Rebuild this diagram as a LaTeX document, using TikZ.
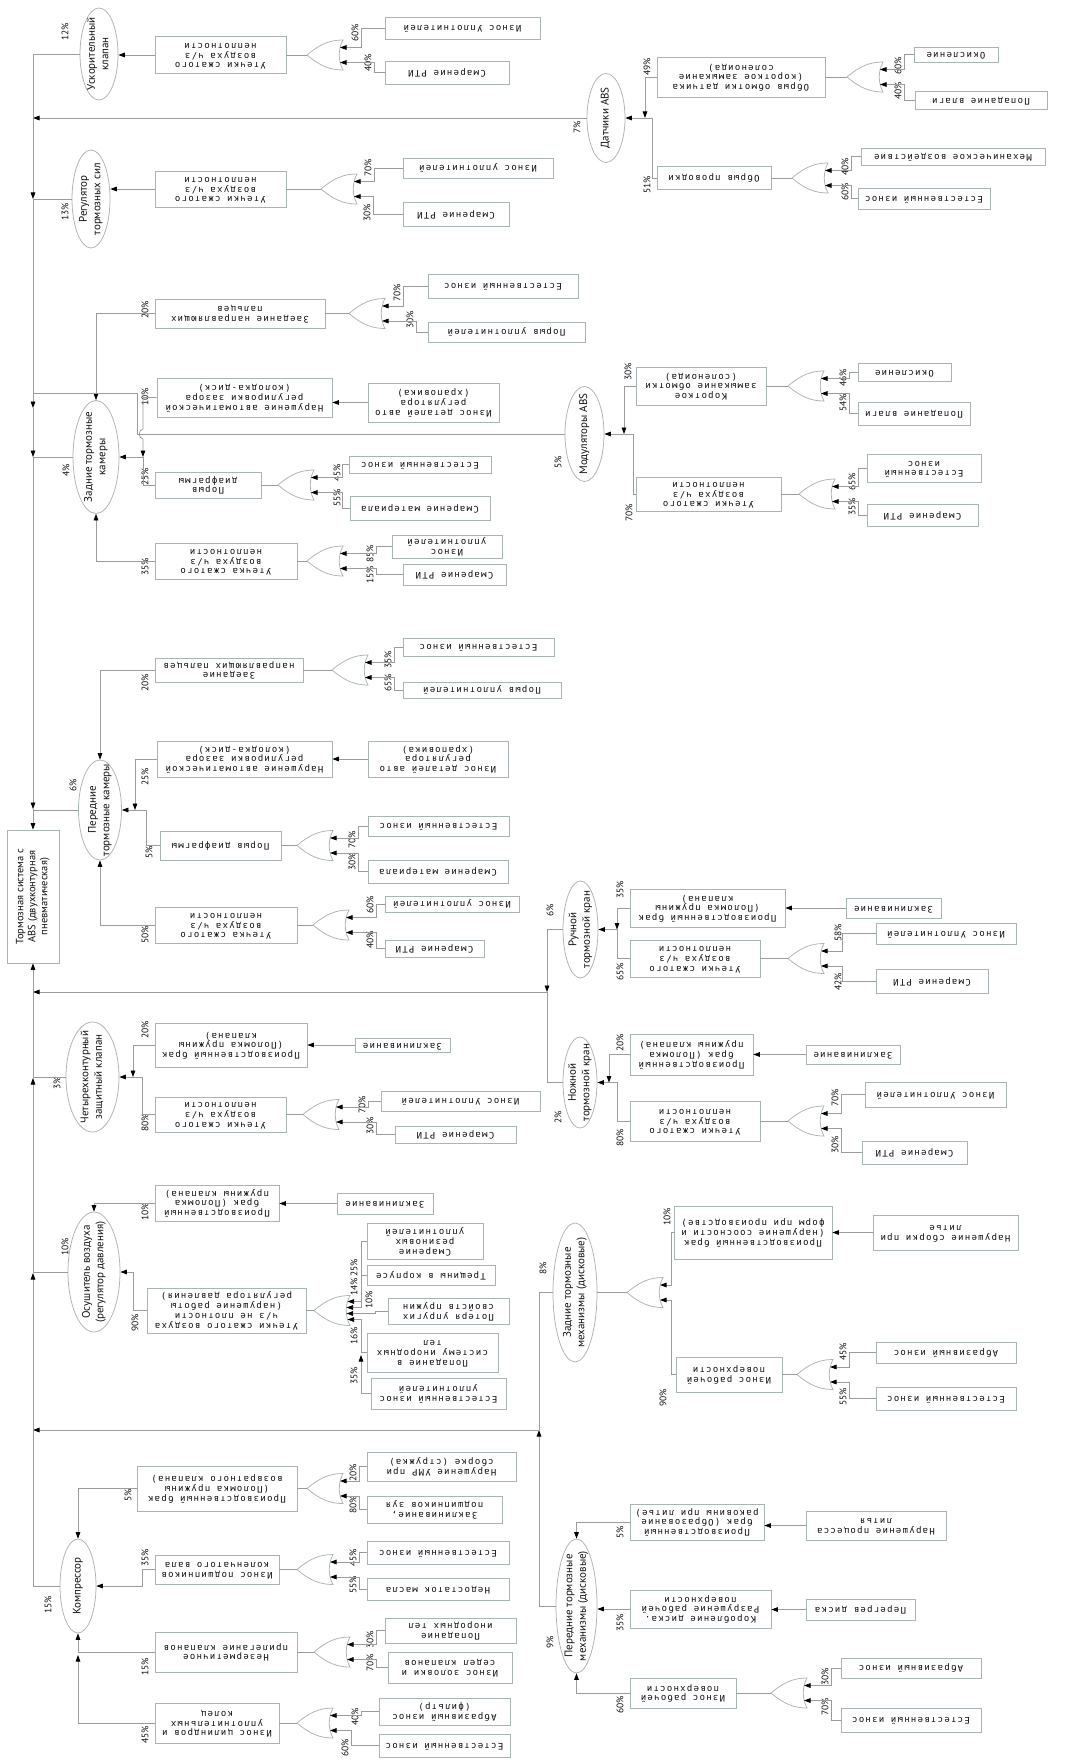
\documentclass[tikz,border=0pt]{standalone}
\usepackage{fontspec}
\usepackage{graphicx}
\usetikzlibrary{shapes.geometric,arrows.meta}
\setmainfont{PT Sans}
\newfontfamily\bxfont[LetterSpace=14]{DejaVu Sans Mono}
\newfontfamily\elfont{PT Sans}
\definecolor{bcol}{HTML}{A9B5B3}
\definecolor{ccol}{HTML}{9C9C9C}
\definecolor{tcol}{HTML}{101010}
\newcommand\utx[1]{\rotatebox{180}{\begin{tabular}{@{}c@{}}#1\end{tabular}}}
\newcommand\rtx[1]{\rotatebox{90}{\begin{tabular}{@{}c@{}}#1\end{tabular}}}
\newcommand\bxnode[6]{\node[bx,minimum width=#4pt,minimum height=#5pt] (#1) at (#2,#3) {};\node[bt] (#1-t) at (#1.center) {\utx{#6}};}
\newcommand\elnode[6]{\node[el,minimum width=#4pt,minimum height=#5pt] (#1) at (#2,#3) {};\node[et] (#1-t) at (#1.center) {\rtx{#6}};}
\newcounter{pcn}
\newcommand\pctl[3]{\stepcounter{pcn}\node[pc] (pc\arabic{pcn}) at (#1,#2) {#3};}
\newcommand\orgt[3]{%
 \coordinate (#1) at (#2,#3);
 \coordinate (#1-a) at (#2+33,#3-7.5);
 \coordinate (#1-b) at (#2+33,#3+7.5);
 \draw[gt] (#2,#3) .. controls (#2+13,#3-11) and (#2+23,#3-15) .. (#2+36,#3-15) .. controls (#2+31,#3-6) and (#2+31,#3+6) .. (#2+36,#3+15) .. controls (#2+23,#3+15) and (#2+13,#3+11) .. (#2,#3);}
\newcommand\lnk[3]{\draw[conn,arr] (#1.west) -- ++(-#3,0) |- (#2);}
\tikzset{
 bx/.style={draw=bcol,line width=0.75pt,inner sep=0pt,rectangle},
 bt/.style={inner sep=0pt,text=tcol,font=\bxfont\fontsize{9}{9.9}\selectfont},
 el/.style={ellipse,draw=bcol,line width=0.75pt,inner sep=0pt},
 et/.style={inner sep=0pt,text=tcol,font=\elfont\fontsize{11}{13.5}\selectfont},
 pc/.style={rotate=90,inner sep=0pt,text=tcol,font=\elfont\fontsize{9.5}{10}\selectfont},
 conn/.style={draw=ccol,line width=0.75pt},
 gt/.style={draw=bcol,line width=0.75pt},
 arr/.style={-{Triangle[length=6.5pt,width=4.6pt,color=black]}},
}
\begin{document}
\begin{tikzpicture}[x=1pt,y=-1pt]
\fill[white] (0,0) rectangle (1075,1760);
\useasboundingbox (0,0) rectangle (1075,1760);

% ---------- root
\node[bx,minimum width=52pt,minimum height=133pt] (R) at (33,896.5) {};
\node[inner sep=0pt,text=tcol,font=\elfont\fontsize{10.5}{12}\selectfont] (R-t) at (R.center) {\rtx{Тормозная система с\\ABS (двухконтурная\\пневматическая)}};

% ---------- A: Ускорительный клапан
\elnode{E1}{99}{54}{38}{92}{Ускорительный\\клапан}
\pctl{65}{32}{12\%}
\bxnode{B1}{220.5}{55}{131}{37}{Утечки сжатого\\воздуха ч/з\\неплотности}
\orgt{G1}{307}{55}
\bxnode{L1a}{462.5}{28}{155}{22}{Износ Уплотнителей}
\bxnode{L1b}{447}{72.5}{124}{23}{Смарение РТИ}
\pctl{355}{33}{60\%}
\pctl{368}{63}{40\%}
\draw[conn,arr] (B1.west) -- (B1.west -| E1.east);
\draw[conn] (B1.east) -- (G1);
\lnk{L1a}{G1-a}{23}
\lnk{L1b}{G1-b}{10}

% ---------- B: Датчики ABS
\elnode{E2}{606}{118}{38}{89}{Датчики ABS}
\pctl{577}{127}{7\%}
\draw[conn,arr] (E2.west) -- (33,118);
\bxnode{B2a}{741}{77}{168}{40}{Обрыв обмотки датчика\\(короткое замыкание\\соленоида)}
\bxnode{B2b}{714}{178}{114}{23}{Обрыв проводки}
\pctl{647}{67}{49\%}
\pctl{647}{185}{51\%}
\draw[conn,arr] (B2a.west) -| (645,118);
\draw[conn,arr] (B2b.west) -| (652,118) -- (E2.east);
\orgt{G2a}{847}{77}
\draw[conn] (B2a.east) -- (G2a);
\bxnode{L2a}{956}{54.5}{84}{15}{Окисление}
\bxnode{L2b}{981}{100}{132}{18}{Попадание влаги}
\pctl{898}{66}{60\%}
\pctl{898}{91}{40\%}
\lnk{L2a}{G2a-a}{9}
\lnk{L2b}{G2a-b}{10}
\orgt{G2b}{792}{178}
\draw[conn] (B2b.east) -- (G2b);
\bxnode{L2c}{953}{156.5}{184}{17}{Механическое воздействие}
\bxnode{L2d}{924}{198.5}{132}{21}{Естественный износ}
\pctl{845}{167}{40\%}
\pctl{845}{192}{60\%}
\lnk{L2c}{G2b-a}{9}
\lnk{L2d}{G2b-b}{6}

% ---------- C: Регулятор тормозных сил
\elnode{E3}{91}{199}{38}{98}{Регулятор\\тормозных сил}
\pctl{65}{212}{13\%}
\bxnode{B3}{220.5}{189}{131}{36}{Утечки сжатого\\воздуха ч/з\\неплотности}
\draw[conn,arr] (B3.west) -- (B3.west -| E3.east);
\orgt{G3}{321}{189}
\draw[conn] (B3.east) -- (G3);
\bxnode{L3a}{478}{168}{150}{20}{Износ уплотнителей}
\bxnode{L3b}{456}{214}{106}{24}{Смарение РТИ}
\pctl{368}{168}{70\%}
\pctl{367}{213}{30\%}
\lnk{L3a}{G3-a}{28}
\lnk{L3b}{G3-b}{29}

% ---------- D: Задние тормозные камеры
\elnode{E4}{96}{457}{46}{113}{Задние тормозные\\камеры}
\pctl{66}{470}{4\%}
\bxnode{B4a}{240}{313.5}{170}{29}{Заедание направляющих\\пальцев}
\pctl{145}{310}{20\%}
\draw[conn,arr] (B4a.west) -| (E4.north);
\orgt{G4a}{349}{313.5}
\draw[conn] (B4a.east) -- (G4a);
\bxnode{L4a}{503}{286}{150}{24}{Естественный износ}
\bxnode{L4b}{506.5}{332}{157}{20}{Порыв уплотнителей}
\pctl{397}{293}{70\%}
\pctl{410}{320}{30\%}
\lnk{L4a}{G4a-a}{24}
\lnk{L4b}{G4a-b}{11}
\bxnode{B4b}{244.5}{397.5}{175}{39}{Нарушение автоматической\\регулировки зазора\\(колодка-диск)}
\pctl{145}{397}{10\%}
\bxnode{L4g}{433.5}{402.5}{131}{39}{Износ деталей авто\\регулятора\\(храповика)}
\draw[conn,arr] (L4g.west) -- (L4g.west -| B4b.east);
\coordinate (J4) at (143,457);
\draw[conn,arr] (B4b.west) -- (143,397.5) -- (143,429) .. controls (138,430) and (138,438) .. (143,439) -- (J4);
\draw[conn,arr] (J4) -- (E4.east);
\bxnode{B4c}{208}{485}{106}{26}{Порыв\\диафрагмы}
\pctl{145}{477}{25\%}
\draw[conn] (B4c.west) -| (J4);
\orgt{G4c}{278}{485}
\draw[conn] (B4c.east) -- (G4c);
\bxnode{L4c}{420}{464.5}{142}{17}{Естественный износ}
\bxnode{L4d}{420}{508}{140}{24}{Смарение материала}
\pctl{337}{473}{45\%}
\pctl{337}{498}{55\%}
\lnk{L4c}{G4c-a}{6}
\lnk{L4d}{G4c-b}{7}
\bxnode{B4d}{226}{561}{142}{36}{Утечка сжатого\\воздуха ч/з\\неплотности}
\pctl{145}{567}{35\%}
\draw[conn,arr] (B4d.west) -| (E4.south);
\orgt{G4d}{307}{561}
\draw[conn] (B4d.east) -- (G4d);
\bxnode{L4e}{447}{546.5}{110}{23}{Износ\\уплотнителей}
\bxnode{L4f}{454.5}{574.5}{103}{21}{Смарение РТИ}
\pctl{370}{554}{85\%}
\pctl{370}{575}{15\%}
\lnk{L4e}{G4d-a}{15}
\lnk{L4f}{G4d-b}{26}

% ---------- E: Модуляторы ABS
\elnode{E5}{584.5}{434}{39}{95}{Модуляторы ABS}
\pctl{558}{462}{5\%}
\draw[conn] (E5.west) -- (137,434) -- (137,393) -- (33,393);
\bxnode{B5a}{701}{386}{130}{38}{Короткое\\замыкание обмотки\\(соленоида)}
\pctl{628}{372}{30\%}
\draw[conn,arr] (B5a.west) -| (624,434);
\bxnode{B5b}{708.5}{494}{145}{34}{Утечки сжатого\\воздуха ч/з\\неплотности}
\pctl{629}{513}{70\%}
\draw[conn,arr] (B5b.west) -| (633,434) -- (E5.east);
\orgt{G5a}{788}{386}
\draw[conn] (B5a.east) -- (G5a);
\bxnode{L5a}{904.5}{372}{93}{18}{Окисление}
\bxnode{L5b}{914}{413.5}{112}{23}{Попадание влаги}
\pctl{843}{378}{46\%}
\pctl{843}{403}{54\%}
\lnk{L5a}{G5a-a}{8}
\lnk{L5b}{G5a-b}{8}
\orgt{G5b}{799}{494}
\draw[conn] (B5b.east) -- (G5b);
\bxnode{L5c}{924}{468}{114}{28}{Естественный\\износ}
\bxnode{L5d}{922.5}{515}{111}{22}{Смарение РТИ}
\pctl{852}{482}{65\%}
\pctl{852}{507}{35\%}
\lnk{L5c}{G5b-a}{8}
\lnk{L5d}{G5b-b}{8}

% ---------- F: Передние тормозные камеры
\elnode{E6}{100}{810}{43}{100}{Передние\\тормозные камеры}
\pctl{73}{785}{6\%}
\bxnode{B6a}{229}{670}{148}{24}{Заедание\\направляющих пальцев}
\pctl{145}{683}{20\%}
\draw[conn,arr] (B6a.west) -| (E6.north);
\orgt{G6a}{332}{670}
\draw[conn] (B6a.east) -- (G6a);
\bxnode{L6a}{478.5}{647}{151}{18}{Естественный износ}
\bxnode{L6b}{482}{690}{158}{16}{Порыв уплотнителей}
\pctl{388}{660}{35\%}
\pctl{388}{683}{65\%}
\lnk{L6a}{G6a-a}{8}
\lnk{L6b}{G6a-b}{8}
\bxnode{B6b}{244.5}{759}{175}{36}{Нарушение автоматической\\регулировки зазора\\(колодка-диск)}
\pctl{145}{777}{25\%}
\bxnode{L6c}{438}{759}{140}{36}{Износ деталей авто\\регулятора\\(храповика)}
\draw[conn,arr] (L6c.west) -- (L6c.west -| B6b.east);
\draw[conn,arr] (B6b.west) -| (135,810);
\bxnode{B6c}{220.5}{845.5}{121}{29}{Порыв диафрагмы}
\pctl{149}{852}{5\%}
\draw[conn,arr] (B6c.west) -| (146,810) -- (E6.east);
\orgt{G6c}{297}{845.5}
\draw[conn] (B6c.east) -- (G6c);
\bxnode{L6d}{438.5}{826}{141}{20}{Естественный износ}
\bxnode{L6e}{438}{871.5}{140}{23}{Смарение материала}
\pctl{352}{840}{70\%}
\pctl{352}{862}{30\%}
\lnk{L6d}{G6c-a}{9}
\lnk{L6e}{G6c-b}{9}
\bxnode{B6d}{226}{925}{142}{36}{Утечка сжатого\\воздуха ч/з\\неплотности}
\pctl{145}{935}{50\%}
\draw[conn,arr] (B6d.west) -| (E6.south);
\orgt{G6d}{313}{925}
\draw[conn] (B6d.east) -- (G6d);
\bxnode{L6f}{452}{904}{134}{16}{Износ уплотнителей}
\bxnode{L6g}{434.5}{948.5}{99}{17}{Смарение РТИ}
\pctl{370}{905}{60\%}
\pctl{370}{940}{40\%}
\lnk{L6f}{G6d-a}{8}
\lnk{L6g}{G6d-b}{8}

% ---------- G: Ручной / Ножной тормозной кран
\elnode{E7}{580.5}{929.5}{35}{97}{Ручной\\тормозной кран}
\pctl{550}{910}{6\%}
\elnode{E8}{580}{1082.5}{34}{91}{Ножной\\тормозной кран}
\pctl{558}{1117}{2\%}
\coordinate (J7) at (547,992);
\draw[conn,arr] (E7.west) -- (547,929.5) -- (J7);
\draw[conn] (E8.west) -- (547,1082.5) -- (J7);
\draw[conn,arr] (J7) -- (33,992);
\bxnode{B7a}{707.5}{908}{155}{38}{Производственный брак\\(Поломка пружины\\клапана)}
\pctl{620}{890}{35\%}
\draw[conn,arr] (B7a.west) -| (617,929.5);
\bxnode{B7b}{695}{958.5}{130}{37}{Утечки сжатого\\воздуха ч/з\\неплотности}
\pctl{620}{972}{65\%}
\draw[conn,arr] (B7b.west) -| (617,929.5) -- (E7.east);
\bxnode{L7a}{893.5}{908}{95}{20}{Заклинивание}
\draw[conn,arr] (L7a.west) -- (L7a.west -| B7a.east);
\orgt{G7b}{788}{958.5}
\draw[conn] (B7b.east) -- (G7b);
\bxnode{L7b}{946}{933.5}{140}{21}{Износ Уплотнителей}
\bxnode{L7c}{932}{981}{112}{24}{Смарение РТИ}
\pctl{838}{933}{58\%}
\pctl{838}{982}{42\%}
\lnk{L7b}{G7b-a}{33}
\lnk{L7c}{G7b-b}{33}
\bxnode{B8a}{691.5}{1054.5}{123}{41}{Производственный\\брак (Поломка\\пружины клапана)}
\pctl{620}{1043}{20\%}
\draw[conn,arr] (B8a.west) -| (609,1082.5);
\bxnode{B8b}{695}{1121}{130}{40}{Утечки сжатого\\воздуха ч/з\\неплотности}
\pctl{620}{1138}{80\%}
\draw[conn,arr] (B8b.west) -| (617,1082.5) -- (E8.east);
\bxnode{L8a}{853}{1054.5}{94}{19}{Заклинивание}
\draw[conn,arr] (L8a.west) -- (L8a.west -| B8a.east);
\orgt{G8b}{788}{1121}
\draw[conn] (B8b.east) -- (G8b);
\bxnode{L8b}{935.5}{1094.5}{141}{25}{Износ Уплотнителей}
\bxnode{L8c}{914.5}{1152.5}{105}{23}{Смарение РТИ}
\pctl{835}{1098}{70\%}
\pctl{835}{1145}{30\%}
\lnk{L8b}{G8b-a}{23}
\lnk{L8c}{G8b-b}{20}

% ---------- H: Четырехконтурный защитный клапан
\elnode{E9}{92.5}{1077}{53}{110}{Четырехконтурный\\защитный клапан}
\pctl{57}{1083}{3\%}
\bxnode{B9a}{231}{1045}{152}{44}{Производственный брак\\(Поломка пружины\\клапана)}
\pctl{145}{1030}{20\%}
\draw[conn,arr] (B9a.west) -| (133,1077);
\bxnode{B9b}{220.5}{1114.5}{131}{35}{Утечки сжатого\\воздуха ч/з\\неплотности}
\pctl{145}{1123}{80\%}
\draw[conn,arr] (B9b.west) -| (142,1077) -- (E9.east);
\bxnode{L9a}{402.5}{1045}{95}{14}{Заклинивание}
\draw[conn,arr] (L9a.west) -- (L9a.west -| B9a.east);
\orgt{G9b}{303}{1114.5}
\draw[conn] (B9b.east) -- (G9b);
\bxnode{L9b}{460.5}{1101}{159}{20}{Износ Уплотнителей}
\bxnode{L9c}{455.5}{1134.5}{121}{17}{Смарение РТИ}
\pctl{362}{1105}{70\%}
\pctl{370}{1126}{30\%}
\lnk{L9b}{G9b-a}{12}
\lnk{L9c}{G9b-b}{18}

% ---------- I: Осушитель воздуха
\elnode{E10}{94}{1272}{52}{120}{Осушитель воздуха\\(регулятор давления)}
\pctl{65}{1247}{10\%}
\bxnode{B10a}{217}{1203}{124}{36}{Производственный\\брак (Поломка\\пружины клапана)}
\pctl{145}{1212}{10\%}
\draw[conn,arr] (B10a.west) -| (E10.north);
\bxnode{L10a}{385}{1203.5}{96}{21}{Заклинивание}
\draw[conn,arr] (L10a.west) -- (L10a.west -| B10a.east);
\bxnode{B10b}{226.5}{1310.5}{159}{45}{Утечки сжатого воздуха\\ч/з не плотности\\(нарушение работы\\регулятора давления)}
\pctl{135}{1323}{90\%}
\draw[conn,arr] (B10b.west) -| (133,1272) -- (E10.east);
\orgt{G10}{314}{1310.5}
\draw[conn] (B10b.east) -- (G10);
\coordinate (G10-1) at (347.5,1301.5);
\coordinate (G10-2) at (346.5,1307.5);
\coordinate (G10-3) at (346.5,1313.5);
\coordinate (G10-4) at (347.5,1319.5);
\bxnode{L10b}{425}{1241}{116}{36}{Смарение\\резиновых\\уплотнителей}
\bxnode{L10c}{431}{1275}{128}{20}{Трещины в корпусе}
\bxnode{L10d}{448.5}{1311}{121}{26}{Потеря упругих\\свойств пружин}
\bxnode{L10e}{432.5}{1352.5}{131}{39}{Попадание в\\систему инородных\\тел}
\bxnode{L10f}{438.5}{1393.5}{135}{31}{Естественный износ\\уплотнителей}
\draw[conn,arr] (L10b.west) -- (361,1241) |- (G10-1);
\draw[conn,arr] (L10c.west) -- (361,1275) |- (G10-2);
\draw[conn,arr] (L10d.west) -- (375,1311) |- (G10-3);
\draw[conn,arr] (L10e.west) -- (361,1352.5) |- (G10-4);
\draw[conn,arr] (L10f.west) -- (361,1393.5) -- (361,1355);
\pctl{354}{1268}{25\%}
\pctl{354}{1287}{14\%}
\pctl{369}{1300}{10\%}
\pctl{354}{1336}{16\%}
\pctl{354}{1376}{35\%}

% ---------- J: Задние тормозные механизмы
\elnode{E11}{575}{1292.5}{44}{139}{Задние тормозные\\механизмы (дисковые)}
\pctl{543}{1268}{8\%}
\coordinate (J11) at (539,1430);
\draw[conn] (E11.west) -- (539,1292.5) -- (J11);
\orgt{G11}{627}{1292.5}
\draw[conn] (E11.east) -- (G11);
\bxnode{B11a}{753}{1232.5}{158}{53}{Производственный брак\\(нарушение соосности и\\форм при производстве)}
\pctl{667}{1217}{10\%}
\draw[conn,arr] (B11a.west) -- (671,1232.5) |- (G11-a);
\bxnode{L11a}{945.5}{1232.5}{145}{35}{Нарушение сборки при\\литье}
\draw[conn,arr] (L11a.west) -- (L11a.west -| B11a.east);
\bxnode{B11b}{729}{1374.5}{106}{35}{Износ рабочей\\поверхности}
\pctl{663}{1398}{90\%}
\draw[conn,arr] (B11b.west) -- (671,1374.5) |- (G11-b);
\orgt{G11b}{797}{1374.5}
\draw[conn] (B11b.east) -- (G11b);
\bxnode{L11c}{946}{1352.5}{140}{21}{Абразивный износ}
\bxnode{L11d}{946}{1398.5}{140}{23}{Естественный износ}
\pctl{843}{1352}{45\%}
\pctl{843}{1397}{55\%}
\lnk{L11c}{G11b-a}{26}
\lnk{L11d}{G11b-b}{26}

% ---------- K: Передние тормозные механизмы
\elnode{E12}{576.5}{1606}{41}{134}{Передние тормозные\\механизмы (дисковые)}
\pctl{550}{1642}{9\%}
\draw[conn,arr] (E12.west) -- (539,1606) -- (J11);
\draw[conn,arr] (J11) -- (33,1430);
\bxnode{B12a}{697}{1522}{134}{36}{Производственный\\брак (Образование\\раковины при литье)}
\pctl{620}{1532}{5\%}
\draw[conn,arr] (B12a.west) -| (E12.north);
\bxnode{L12a}{876}{1525.5}{140}{29}{Нарушение процесса\\литья}
\draw[conn,arr] (L12a.west) -- (L12a.west -| B12a.east);
\bxnode{B12b}{700.5}{1609}{141}{38}{Коробление диска.\\Разрушение рабочей\\поверхности}
\pctl{620}{1623}{35\%}
\draw[conn,arr] (B12b.west) -- (B12b.west -| E12.east);
\bxnode{L12b}{860.5}{1609.5}{109}{21}{Перегрев диска}
\draw[conn,arr] (L12b.west) -- (L12b.west -| B12b.east);
\bxnode{B12c}{683}{1693}{106}{30}{Износ рабочей\\поверхности}
\pctl{620}{1705}{60\%}
\draw[conn,arr] (B12c.west) -| (E12.south);
\orgt{G12c}{771}{1693}
\draw[conn] (B12c.east) -- (G12c);
\bxnode{L12c}{911}{1668}{140}{20}{Абразивный износ}
\bxnode{L12d}{911}{1720}{140}{24}{Естественный износ}
\pctl{825}{1677}{30\%}
\pctl{825}{1707}{70\%}
\lnk{L12c}{G12c-a}{9}
\lnk{L12d}{G12c-b}{9}

% ---------- L: Компрессор
\elnode{E13}{78}{1586}{36}{94}{Компрессор}
\pctl{48}{1605}{15\%}
\bxnode{B13a}{217}{1488.5}{160}{45}{Производственный брак\\(Поломка пружины\\возвратного клапана)}
\pctl{128}{1495}{5\%}
\draw[conn,arr] (B13a.west) -| (E13.north);
\orgt{G13a}{307}{1488.5}
\draw[conn] (B13a.east) -- (G13a);
\bxnode{L13a}{441.5}{1466.5}{149}{29}{Нарушение УМР при\\сборке (стружка)}
\bxnode{L13b}{434.5}{1509.5}{135}{27}{Заклинивание,\\подшипников зуя}
\pctl{353}{1473}{20\%}
\pctl{353}{1505}{80\%}
\lnk{L13a}{G13a-a}{7}
\lnk{L13b}{G13a-b}{7}
\bxnode{B13b}{217}{1569.5}{124}{29}{Износ подшипников\\коленчатого вала}
\pctl{145}{1558}{35\%}
\draw[conn,arr] (B13b.west) -| (142,1586) -- (E13.east);
\orgt{G13b}{297}{1569.5}
\draw[conn] (B13b.east) -- (G13b);
\bxnode{L13c}{438}{1552.5}{142}{23}{Естественный износ}
\bxnode{L13d}{438}{1589}{142}{22}{Недостаток масла}
\pctl{353}{1558}{45\%}
\pctl{353}{1585}{55\%}
\lnk{L13c}{G13b-a}{7}
\lnk{L13d}{G13b-b}{7}
\bxnode{B13c}{226}{1652}{142}{40}{Незерметичное\\прилегание клапанов}
\pctl{145}{1667}{15\%}
\draw[conn,arr] (B13c.west) -| (E13.south);
\bxnode{B13d}{217}{1723}{124}{40}{Износ цилиндров и\\уплотнительных\\колец}
\pctl{145}{1735}{45\%}
\draw[conn,arr] (B13d.west) -| (78,1655);
\orgt{G13c}{314}{1652}
\draw[conn] (B13c.east) -- (G13c);
\bxnode{L13e}{450.5}{1630.5}{131}{25}{Попадание\\инородных тел}
\bxnode{L13f}{450}{1667.5}{124}{31}{Износ золовки и\\седел клапанов}
\pctl{370}{1640}{30\%}
\pctl{370}{1663}{70\%}
\lnk{L13e}{G13c-a}{8}
\lnk{L13f}{G13c-b}{11}
\orgt{G13d}{297}{1723}
\draw[conn] (B13d.east) -- (G13d);
\bxnode{L13g}{444.5}{1711.5}{131}{27}{Абразивный износ\\(фильтр)}
\bxnode{L13h}{444.5}{1745.5}{131}{23}{Естественный износ}
\pctl{355}{1717}{40\%}
\pctl{345}{1748}{60\%}
\lnk{L13g}{G13d-a}{17}
\lnk{L13h}{G13d-b}{27}

% ---------- trunk
\draw[conn,arr] (E1.west) -- (33,54) -- (33,199);
\draw[conn] (E3.west) -- (33,199);
\draw[conn,arr] (33,199) -- (33,408);
\draw[conn,arr] (33,408) -- (33,457);
\draw[conn] (E4.west) -- (33,457);
\draw[conn,arr] (33,457) -- (33,809);
\draw[conn] (E6.west) -- (33,810);
\draw[conn,arr] (33,809) -- (R.north);
\draw[conn,arr] (E13.west) -- (33,1586) -- (33,1273);
\draw[conn] (E10.west) -- (33,1272);
\draw[conn,arr] (33,1272) -- (33,1078);
\draw[conn] (E9.west) -- (33,1077);
\draw[conn,arr] (33,1077) -- (R.south);
\end{tikzpicture}
\end{document}
